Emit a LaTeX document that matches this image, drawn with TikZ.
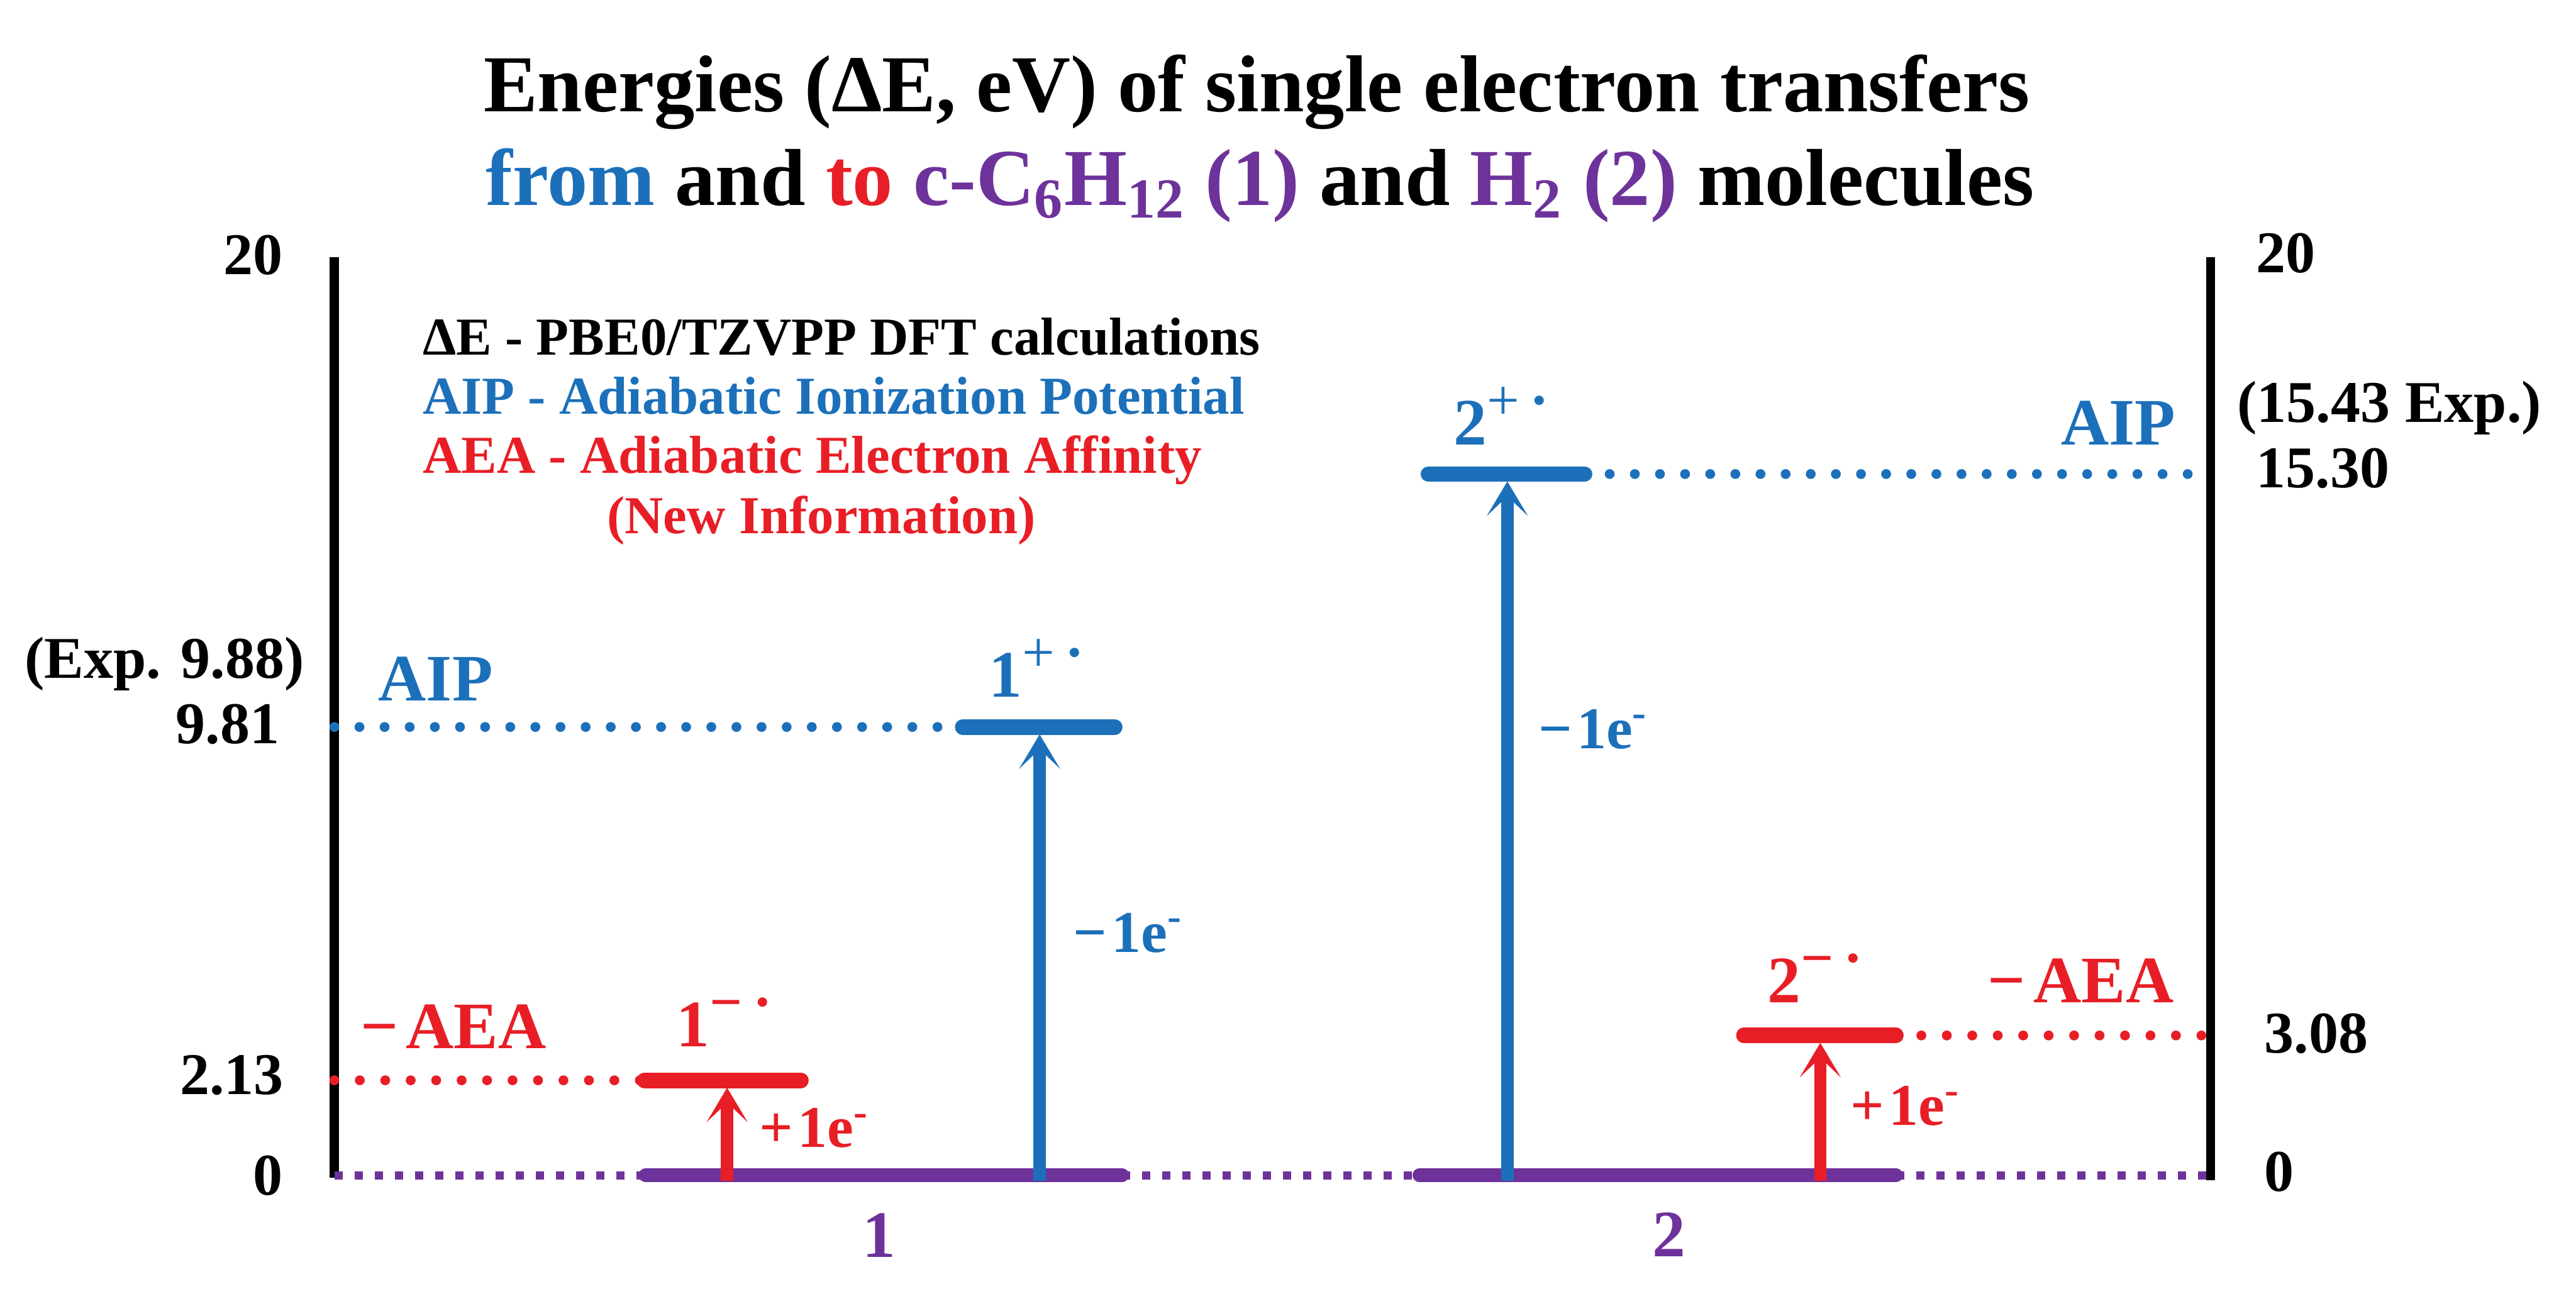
\documentclass[tikz,border=0pt]{standalone}
\usepackage{fontspec}
\setmainfont{Liberation Serif}[BoldFont={Liberation Serif Bold}]
\usetikzlibrary{arrows.meta}
\definecolor{cblue}{RGB}{28,112,185}
\definecolor{cred}{RGB}{232,30,38}
\definecolor{cpurple}{RGB}{110,50,155}
\newcommand{\fs}[1]{\fontsize{#1}{#1}\selectfont}
\newcommand{\ionlab}[2]{#1\raisebox{0.38em}{\fs{20}#2\hspace{0.18em}\bfseries ·}}
\newcommand{\elec}[1]{#1\hspace{0.08em}1e\textsuperscript{-}}
\begin{document}
\begin{tikzpicture}[x=0.02cm,y=-0.02cm,
  txt/.style={inner sep=0pt},
  ttl/.style={txt, font=\bfseries\fs{28}},
  num/.style={txt, font=\bfseries\fs{20.5}},
  lab/.style={txt, font=\bfseries\fs{23}},
  elab/.style={txt, font=\bfseries\fs{20.5}},
  leg/.style={txt, font=\bfseries\fs{18.5}},
  axisline/.style={line width=0.11cm, black},
  bdot/.style={cblue, line width=0.12cm, line cap=round, dash pattern=on 0pt off 0.306cm},
  rdot/.style={cred, line width=0.12cm, line cap=round, dash pattern=on 0pt off 0.31cm},
  pdot/.style={cpurple, line width=0.1cm, dash pattern=on 0.1cm off 0.145cm},
  lvl/.style={line width=0.19cm, line cap=round},
  gnd/.style={cpurple, line width=0.17cm, line cap=round},
  arr/.style={line width=0.15cm, -{Stealth[length=0.42cm,width=0.5cm,inset=0.24cm]}}
]
\useasboundingbox (0,0) rectangle (1568,798);

% title
\node[ttl, anchor=base] (t1) at (765,68) {Energies (ΔE, eV) of single electron transfers};
\node[ttl, anchor=base] (t2) at (767,125) {{\color{cblue}from} and {\color{cred}to} {\color{cpurple}c-C\textsubscript{6}H\textsubscript{12} (1)} and {\color{cpurple}H\textsubscript{2} (2)} molecules};

% axes
\coordinate (Lt) at (203.5,156.4);
\coordinate (Lb) at (203.5,717);
\coordinate (Rt) at (1345.5,156.4);
\coordinate (Rb) at (1345.5,718.5);
\draw[axisline] (Lt) -- (Lb);
\draw[axisline] (Rt) -- (Rb);

% level coordinates
\coordinate (g1a) at (393,715.5);   \coordinate (g1b) at (683,715.5);
\coordinate (g2a) at (864,715.5);   \coordinate (g2b) at (1154,715.5);
\coordinate (m1a) at (392.3,657.7); \coordinate (m1b) at (487.5,657.7);
\coordinate (p1a) at (586,442.6);   \coordinate (p1b) at (678.5,442.6);
\coordinate (p2a) at (869.5,288.6); \coordinate (p2b) at (964.5,288.6);
\coordinate (m2a) at (1061.5,630.4);\coordinate (m2b) at (1154,630.4);

% dotted guide lines
\draw[bdot] (Lt |- p1a) -- (p1a);
\draw[rdot] (Lt |- m1a) -- (m1a);
\draw[pdot] (Lt |- g1a) -- (g1a);
\draw[pdot] (g1b) -- (g2a);
\draw[pdot] (g2b) -- (Rt |- g2b);
\draw[bdot] (p2b) -- (Rt |- p2b);
\draw[rdot] (m2b) -- (Rt |- m2b);

% ground levels
\draw[gnd] (g1a) -- (g1b);
\draw[gnd] (g2a) -- (g2b);

% arrows
\coordinate (ar1) at (442.6,719);
\coordinate (ar2) at (632.8,719);
\coordinate (ar3) at (917.5,719);
\coordinate (ar4) at (1108,719);
\draw[arr, cred]  (ar1) -- ([yshift=-0.09cm]m1a -| ar1);
\draw[arr, cblue] (ar2) -- ([yshift=-0.09cm]p1a -| ar2);
\draw[arr, cblue] (ar3) -- ([yshift=-0.09cm]p2a -| ar3);
\draw[arr, cred]  (ar4) -- ([yshift=-0.09cm]m2a -| ar4);

% excited levels
\draw[lvl, cred]  (m1a) -- (m1b);
\draw[lvl, cblue] (p1a) -- (p1b);
\draw[lvl, cblue] (p2a) -- (p2b);
\draw[lvl, cred]  (m2a) -- (m2b);

% legend
\node[leg, anchor=base west] (lg1) at (257,216) {ΔE - PBE0/TZVPP DFT calculations};
\node[leg, anchor=base west, text=cblue] (lg2) at (257,252) {AIP - Adiabatic Ionization Potential};
\node[leg, anchor=base west, text=cred] (lg3) at (257,288) {AEA - Adiabatic Electron Affinity};
\node[leg, anchor=base, text=cred] (lg4) at (500,325) {(New Information)};

% left axis numbers
\node[num, anchor=base east] (n20l) at (172.5,167) {20};
\node[num, anchor=base east] (nexpl) at (185.5,413) {(Exp. 9.88)};
\node[num, anchor=base east] (n981) at (170.5,452.5) {9.81};
\node[num, anchor=base east] (n213) at (173,666.2) {2.13};
\node[num, anchor=base east] (n0l) at (172.5,727.5) {0};

% right axis numbers
\node[num, anchor=base west] (n20r) at (1373,166) {20};
\node[num, anchor=base west] (nexpr) at (1361.5,257) {(15.43 Exp.)};
\node[num, anchor=base west] (n1530) at (1373,297) {15.30};
\node[num, anchor=base west] (n308) at (1378,641) {3.08};
\node[num, anchor=base west] (n0r) at (1378,725.3) {0};

% AIP / AEA labels
\node[lab, anchor=base west, text=cblue] (aipl) at (230,426.7) {AIP};
\node[lab, anchor=base west, text=cred] (aeal) at (219,638.5) {−\hspace{0.12em}AEA};
\node[lab, anchor=base east, text=cblue] (aipr) at (1324.5,270.7) {AIP};
\node[lab, anchor=base east, text=cred] (aear) at (1323.5,610.4) {−\hspace{0.12em}AEA};

% species labels
\node[lab, anchor=base, text=cblue] (s1p) at (631,424.2) {\ionlab{1}{\mdseries +}};
\node[lab, anchor=base, text=cblue] (s2p) at (914,270.7) {\ionlab{2}{\mdseries +}};
\node[lab, anchor=base, text=cred] (s1m) at (441,637.1) {\ionlab{1}{−}};
\node[lab, anchor=base, text=cred] (s2m) at (1105,610.4) {\ionlab{2}{−}};
\node[lab, anchor=base, text=cpurple] (s1) at (535,765.4) {1};
\node[lab, anchor=base, text=cpurple] (s2) at (1016,765) {2};

% electron transfer labels
\node[elab, anchor=base west, text=cblue] (e1) at (653,579.7) {\elec{−}};
\node[elab, anchor=base west, text=cblue] (e2) at (936,455.7) {\elec{−}};
\node[elab, anchor=base west, text=cred] (e3) at (462,698.6) {\elec{+}};
\node[elab, anchor=base west, text=cred] (e4) at (1126,685.2) {\elec{+}};
\end{tikzpicture}
\end{document}
